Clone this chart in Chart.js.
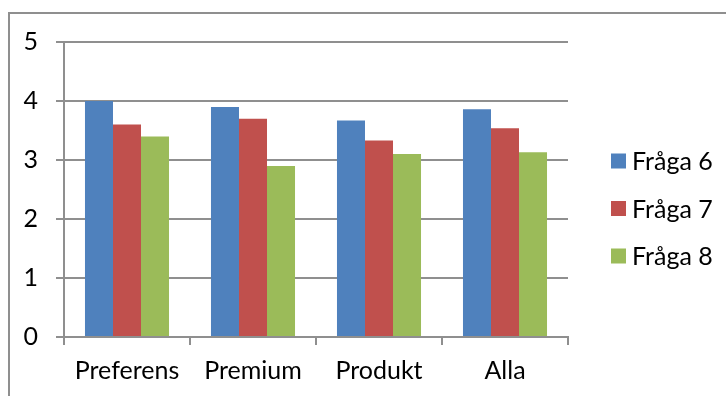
<!DOCTYPE html>
<html lang="sv">
    <head>
        <meta charset="UTF-8" />
        <title>Fråga 6-8</title>
        <script src="https://cdn.jsdelivr.net/npm/chart.js@4.4.0/dist/chart.umd.min.js"></script>
        <style>
            body { margin: 0; background: #fff; }
        </style>
    </head>
    <body>
        <canvas id="myChart" width="726" height="396"></canvas>
        <script>
            const categories = ['Preferens', 'Premium', 'Produkt', 'Alla'];
            const seriesNames = ['Fråga 6', 'Fråga 7', 'Fråga 8'];
            const fraga6 = [4.0, 3.9, 3.67, 3.86];
            const fraga7 = [3.6, 3.7, 3.33, 3.54];
            const fraga8 = [3.4, 2.9, 3.1, 3.13];
            const yTicks = [0, 1, 2, 3, 4, 5];
            const colors = ['#4F81BD', '#C0504D', '#9BBB59'];

            const gridGray = '#8f8f8f';
            const fontFam = 'Lato, "Liberation Sans", sans-serif';

            // frame round the whole chart (only left and top are visible)
            const framePlugin = {
                id: 'frame',
                beforeDraw(chart) {
                    const ctx = chart.ctx;
                    ctx.save();
                    ctx.strokeStyle = gridGray;
                    ctx.lineWidth = 2;
                    ctx.beginPath();
                    ctx.moveTo(9, 400);
                    ctx.lineTo(9, 13);
                    ctx.lineTo(730, 13);
                    ctx.stroke();
                    ctx.restore();
                }
            };

            // legend on the right, drawn from the datasets
            const legendPlugin = {
                id: 'sideLegend',
                afterDraw(chart) {
                    const ctx = chart.ctx;
                    ctx.save();
                    ctx.font = '25px ' + fontFam;
                    ctx.textBaseline = 'middle';
                    chart.data.datasets.forEach((ds, i) => {
                        const cy = 161 + i * 47.5;
                        ctx.fillStyle = ds.backgroundColor;
                        ctx.fillRect(611, cy - 7.5, 15, 15);
                        ctx.fillStyle = '#000';
                        ctx.fillText(ds.label, 632, cy + 1);
                    });
                    ctx.restore();
                }
            };

            const seriesData = [fraga6, fraga7, fraga8];
            const ctx = document.getElementById('myChart').getContext('2d');
            const myChart = new Chart(ctx, {
                type: 'bar',
                data: {
                    labels: categories,
                    datasets: seriesData.map((vals, i) => ({
                        label: seriesNames[i],
                        data: vals,
                        backgroundColor: colors[i],
                        borderWidth: 0,
                        categoryPercentage: 0.667,
                        barPercentage: 1.0
                    }))
                },
                options: {
                    responsive: false,
                    animation: false,
                    layout: {
                        padding: { left: 0, right: 158, top: 42, bottom: 0 }
                    },
                    plugins: {
                        legend: { display: false },
                        tooltip: { enabled: false }
                    },
                    scales: {
                        x: {
                            afterFit: s => { s.height = 59; },
                            border: { color: gridGray, width: 2 },
                            grid: {
                                offset: true,
                                drawOnChartArea: false,
                                drawTicks: true,
                                tickLength: 8,
                                color: gridGray,
                                lineWidth: 2
                            },
                            ticks: {
                                color: '#000',
                                padding: 11,
                                font: { family: fontFam, size: 25 }
                            }
                        },
                        y: {
                            min: 0,
                            max: 5,
                            afterFit: s => { s.width = 64; },
                            afterBuildTicks: s => { s.ticks = yTicks.map(v => ({ value: v })); },
                            border: { color: gridGray, width: 2 },
                            grid: {
                                color: gridGray,
                                lineWidth: 2,
                                tickLength: 8
                            },
                            ticks: {
                                color: '#000',
                                padding: 18,
                                font: { family: fontFam, size: 25 }
                            }
                        }
                    }
                },
                plugins: [framePlugin, legendPlugin]
            });
        </script>
    </body>
</html>
